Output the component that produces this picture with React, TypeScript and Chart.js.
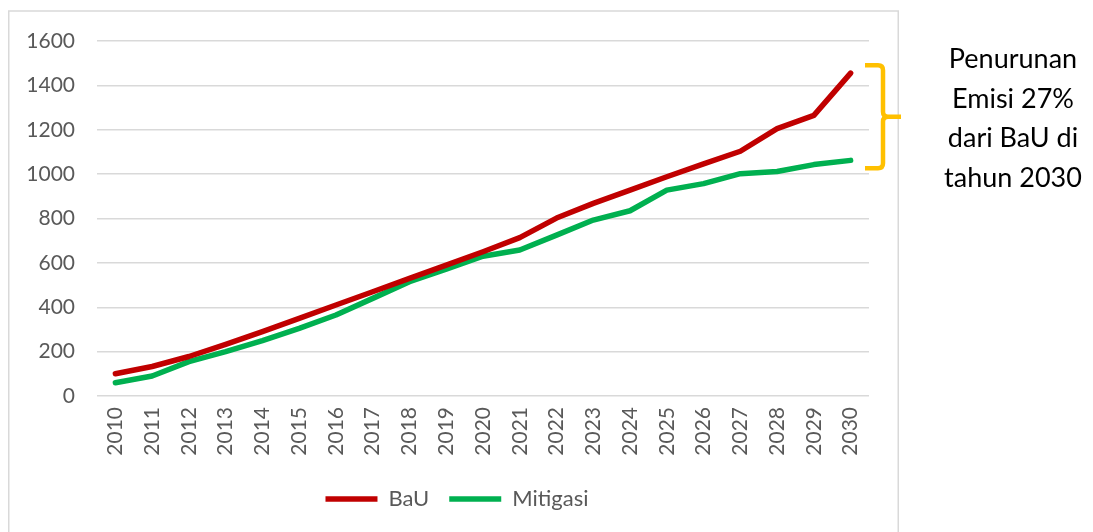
import React, { useEffect, useRef } from "react";
import { Chart, registerables } from "chart.js";

Chart.register(...registerables);

const years = ["2010","2011","2012","2013","2014","2015","2016","2017","2018","2019","2020","2021","2022","2023","2024","2025","2026","2027","2028","2029","2030"];
const bauValues = [100, 133, 178, 233, 290, 350, 410, 470, 530, 590, 650, 714, 802, 868, 928, 988, 1046, 1103, 1205, 1265, 1455];
const mitigasiValues = [60, 90, 155, 200, 250, 305, 365, 440, 515, 572, 630, 658, 725, 793, 835, 928, 957, 1002, 1012, 1043, 1062];
const annotationLines = ["Penurunan", "Emisi 27%", "dari BaU di", "tahun 2030"];

const FONT = "Lato, 'Open Sans', sans-serif";
const TICK_COLOR = "#595959";

const decor = {
  id: "decor",
  afterLayout(chart: any) {
    const lg = chart.legend;
    if (lg) {
      lg.left += 12.5;
      lg.right += 12.5;
    }
  },
  beforeDraw(chart: any) {
    const ctx = chart.ctx;
    ctx.save();
    ctx.fillStyle = "#ffffff";
    ctx.fillRect(0, 0, chart.width, chart.height);
    ctx.strokeStyle = "#d9d9d9";
    ctx.lineWidth = 1.5;
    ctx.strokeRect(8.75, 11, 889.5, 700);
    ctx.restore();
  },
  afterDraw(chart: any) {
    const ctx = chart.ctx;
    const y = chart.scales.y;
    const right = chart.chartArea.right;
    const yT = y.getPixelForValue(bauValues[bauValues.length - 1]) - 8;
    const yB = y.getPixelForValue(mitigasiValues[mitigasiValues.length - 1]) + 8;
    const yM = (yT + yB) / 2;
    const xL = right - 4;
    const xV = right + 14;
    const xT = right + 32;
    const r = 5;
    ctx.save();
    ctx.strokeStyle = "#FFC000";
    ctx.lineWidth = 4.5;
    ctx.lineJoin = "round";
    ctx.lineCap = "butt";
    ctx.beginPath();
    ctx.moveTo(xL, yT);
    ctx.lineTo(xV - r, yT);
    ctx.quadraticCurveTo(xV, yT, xV, yT + r);
    ctx.lineTo(xV, yM - r);
    ctx.quadraticCurveTo(xV, yM, xV + r, yM);
    ctx.lineTo(xT, yM);
    ctx.moveTo(xV + r, yM);
    ctx.quadraticCurveTo(xV, yM, xV, yM + r);
    ctx.lineTo(xV, yB - r);
    ctx.quadraticCurveTo(xV, yB, xV - r, yB);
    ctx.lineTo(xL, yB);
    ctx.stroke();

    ctx.fillStyle = "#000000";
    ctx.font = `27px ${FONT}`;
    ctx.textAlign = "center";
    ctx.textBaseline = "alphabetic";
    const offsets = [-48.5, -8.5, 30.5, 70.5];
    annotationLines.forEach((t, i) => {
      ctx.fillText(t, 1013, yM + offsets[i]);
    });
    ctx.restore();
  },
};

export default function App() {
  const ref = useRef<HTMLCanvasElement>(null);
  useEffect(() => {
    if (!ref.current) return;
    const chart = new Chart(ref.current, {
      type: "line",
      data: {
        labels: years,
        datasets: [
          {
            label: "BaU",
            data: bauValues,
            borderColor: "#C00000",
            backgroundColor: "#C00000",
            borderWidth: 5.5,
            borderCapStyle: "round",
            borderJoinStyle: "round",
            pointRadius: 0,
            tension: 0,
          },
          {
            label: "Mitigasi",
            data: mitigasiValues,
            borderColor: "#00B050",
            backgroundColor: "#00B050",
            borderWidth: 5.5,
            borderCapStyle: "round",
            borderJoinStyle: "round",
            pointRadius: 0,
            tension: 0,
          },
        ],
      },
      options: {
        responsive: false,
        animation: false,
        layout: { padding: { left: 20, right: 224, top: 41, bottom: 12 } },
        scales: {
          x: {
            offset: true,
            grid: { display: false, drawTicks: false },
            border: { display: false },
            ticks: {
              minRotation: 90,
              maxRotation: 90,
              autoSkip: false,
              padding: 11,
              color: TICK_COLOR,
              font: { family: FONT, size: 21 },
            },
            afterFit(s: any) {
              s.height = 72;
            },
          },
          y: {
            min: 0,
            max: 1600,
            ticks: {
              stepSize: 200,
              padding: 22,
              color: TICK_COLOR,
              font: { family: FONT, size: 21 },
              callback: (v: any) => String(v),
            },
            grid: { color: "#d9d9d9", lineWidth: 1.5, drawTicks: false },
            border: { display: false },
            afterFit(s: any) {
              s.width = 77;
            },
          },
        },
        plugins: {
          legend: {
            position: "bottom",
            labels: {
              usePointStyle: true,
              pointStyle: "line",
              pointStyleWidth: 52,
              padding: 20,
              color: TICK_COLOR,
              font: { family: FONT, size: 22 },
            },
          },
          tooltip: { enabled: false },
        },
      } as any,
      plugins: [decor],
    });
    return () => chart.destroy();
  }, []);
  return (
    <div style={{ position: "fixed", left: 0, top: 0, width: 1093, height: 532, background: "#fff" }}>
      <canvas ref={ref} width={1093} height={532} style={{ display: "block" }} />
    </div>
  );
}
